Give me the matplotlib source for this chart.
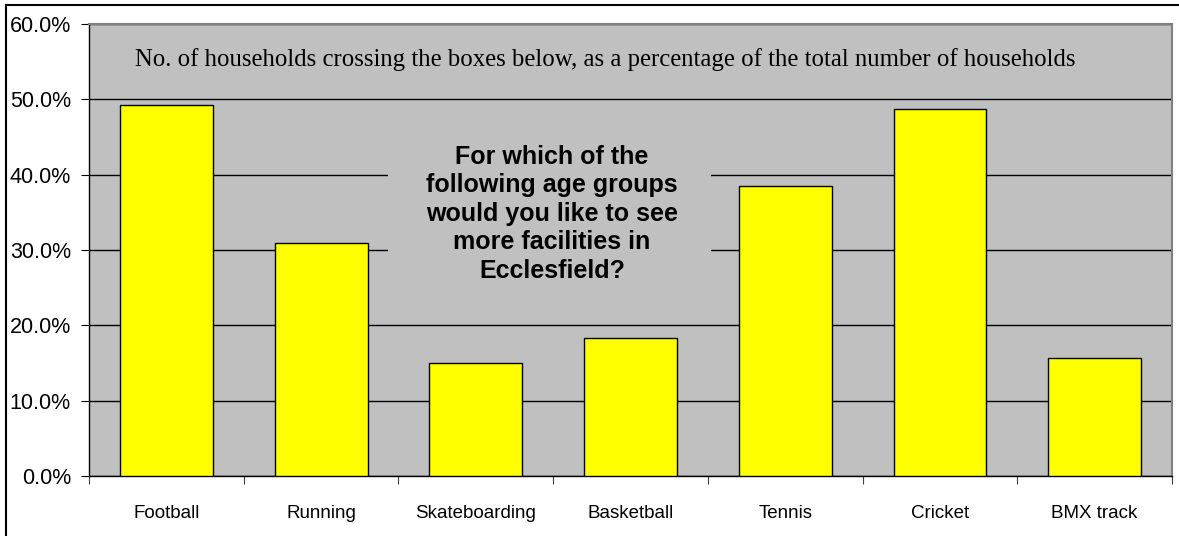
import numpy as np
import matplotlib.pyplot as plt
from matplotlib.lines import Line2D
from matplotlib.patches import Rectangle
from matplotlib.ticker import FuncFormatter, MultipleLocator

categorias = ['Football', 'Running', 'Skateboarding', 'Basketball', 'Tennis', 'Cricket', 'BMX track']
porcentajes = [49.2, 30.9, 15.0, 18.3, 38.5, 48.7, 15.7]

titulo = 'No. of households crossing the boxes below, as a percentage of the total number of households'
pregunta = 'For which of the\nfollowing age groups\nwould you like to see\nmore facilities in\nEcclesfield?'

fig = plt.figure(figsize=(11.79, 5.36), dpi=100)
ax = fig.add_axes([0.0755, 0.112, 0.9186, 0.843])
ax.set_facecolor('#C0C0C0')

x = np.arange(len(categorias))
ax.bar(x, porcentajes, width=0.6, color='#FFFF00', edgecolor='black', linewidth=1.0, zorder=3)

ax.set_xlim(-0.5, len(categorias) - 0.5)
ax.set_ylim(0, 60)
ax.yaxis.set_major_locator(MultipleLocator(10))
ax.yaxis.set_major_formatter(FuncFormatter(lambda v, p: f'{v:.1f}%'))
ax.grid(axis='y', color='black', linewidth=1.0, zorder=1)

# ticks en los limites de cada categoria, etiquetas centradas
ax.set_xticks(np.arange(len(categorias) + 1) - 0.5)
ax.set_xticklabels([])
ax.set_xticks(x, minor=True)
ax.set_xticklabels(categorias, minor=True, fontsize=13.5, family='Liberation Sans')
ax.tick_params(axis='x', which='minor', length=0, pad=21)
ax.tick_params(axis='x', which='major', length=6, color='#404040')
ax.tick_params(axis='y', length=6, labelsize=15.5, pad=7)
for lbl in ax.get_yticklabels():
    lbl.set_family('Liberation Sans')

for lado in ['top', 'right']:
    ax.spines[lado].set_color('#808080')
    ax.spines[lado].set_linewidth(1.5)
for lado in ['left', 'bottom']:
    ax.spines[lado].set_color('black')
    ax.spines[lado].set_linewidth(1.0)

ax.text(0.477, 0.922, titulo, transform=ax.transAxes, ha='center', va='center',
        fontsize=17.8, family='Liberation Serif', zorder=5)

# recuadro gris detras de la pregunta, tapa las lineas de la rejilla
ax.add_patch(Rectangle((0.276, 0.39), 0.298, 0.35, transform=ax.transAxes,
                       facecolor='#C0C0C0', edgecolor='none', zorder=2))
ax.text(0.4275, 0.58, pregunta, transform=ax.transAxes, ha='center', va='center',
        fontsize=18, fontweight='bold', family='Liberation Sans', linespacing=1.24, zorder=5)

# marco exterior
fig.add_artist(Line2D([6 / 1179, 1.01], [1 - 5 / 536, 1 - 5 / 536], color='black', linewidth=1.5, transform=fig.transFigure))
fig.add_artist(Line2D([6 / 1179, 6 / 1179], [-0.01, 1 - 5 / 536], color='black', linewidth=1.5, transform=fig.transFigure))

fig.savefig('out.png', dpi=100)
